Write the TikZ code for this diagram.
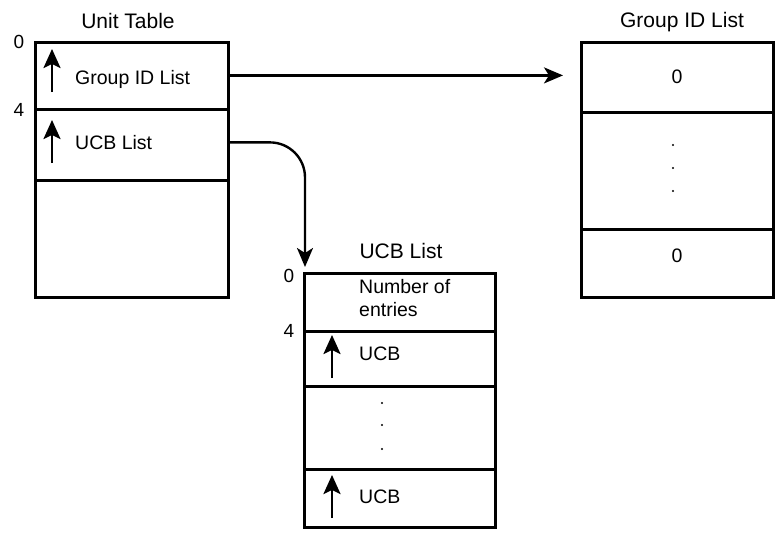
\documentclass[tikz,border=0pt]{standalone}
\usepackage{fontspec}
\setmainfont{Liberation Sans}
\usetikzlibrary{arrows.meta}
\begin{document}
\begin{tikzpicture}[x=1pt,y=-1pt,
  cell/.style={draw, line width=2.8pt, inner sep=0pt, anchor=north west},
  lbl/.style={anchor=base west, inner sep=0pt, font=\fontsize{19.5}{21}\selectfont},
  ctr/.style={anchor=base, inner sep=0pt, font=\fontsize{19.5}{21}\selectfont},
  ttl/.style={anchor=base, inner sep=0pt, font=\fontsize{21}{23}\selectfont},
  off/.style={anchor=base, inner sep=0pt, font=\fontsize{19}{21}\selectfont},
  dot/.style={circle, fill, inner sep=0pt, minimum size=2.4pt},
  ptr/.style={line width=2.6pt, -{Stealth[length=19pt,width=17pt,inset=4pt]}},
  arr/.style={line width=2.4pt, -{Stealth[length=19pt,width=16pt,inset=5pt]}}]
\useasboundingbox (0,0) rectangle (776,539);

% Unit Table
\node[cell, minimum width=193pt, minimum height=67pt] (ut1) at (34,41) {};
\node[cell, minimum width=193pt, minimum height=71pt] (ut2) at (34,108) {};
\node[cell, minimum width=193pt, minimum height=117pt] (ut3) at (34,179) {};
\node[ttl] (uttitle) at (128,28) {Unit Table};
\node[off] (ut0) at (19,48) {0};
\node[off] (ut4) at (19,116) {4};
\node[lbl] (utgid) at (75,84) {Group ID List};
\node[lbl] (utucb) at (75,149) {UCB List};
\coordinate (p1a) at (52,92); \coordinate (p1b) at (52,49);
\coordinate (p2a) at (52,163); \coordinate (p2b) at (52,120);
\draw[ptr] (p1a) -- (p1b);
\draw[ptr] (p2a) -- (p2b);

% Group ID List
\node[cell, minimum width=192pt, minimum height=70pt] (gid1) at (580,41) {};
\node[cell, minimum width=192pt, minimum height=117pt] (gid2) at (580,111) {};
\node[cell, minimum width=192pt, minimum height=68pt] (gid3) at (580,228) {};
\node[ttl] (gidtitle) at (682,27) {Group ID List};
\node[ctr] (gidz1) at (677,83) {0};
\node[ctr] (gidz2) at (677,262) {0};
\node[dot] (gd1) at (673,145) {};
\node[dot] (gd2) at (673,168) {};
\node[dot] (gd3) at (673,191) {};

% UCB List
\node[cell, minimum width=191pt, minimum height=58pt] (ucb1) at (303,272) {};
\node[cell, minimum width=191pt, minimum height=55pt] (ucb2) at (303,330) {};
\node[cell, minimum width=191pt, minimum height=83pt] (ucb3) at (303,385) {};
\node[cell, minimum width=191pt, minimum height=58pt] (ucb4) at (303,468) {};
\node[ttl] (ucbtitle) at (401,258) {UCB List};
\node[off] (ucb0) at (289,282) {0};
\node[off] (ucb4l) at (289,337) {4};
\node[lbl] (num1) at (359,293) {Number of};
\node[lbl] (num2) at (359,316) {entries};
\node[lbl] (ucbe1) at (359,360) {UCB};
\node[lbl] (ucbe2) at (359,503) {UCB};
\coordinate (p3a) at (332,378); \coordinate (p3b) at (332,335);
\coordinate (p4a) at (332,518); \coordinate (p4b) at (332,475);
\draw[ptr] (p3a) -- (p3b);
\draw[ptr] (p4a) -- (p4b);
\node[dot] (ud1) at (382,403) {};
\node[dot] (ud2) at (382,425) {};
\node[dot] (ud3) at (382,449) {};

% connectors
\draw[arr, shorten >=17pt] ([yshift=0.5pt]ut1.east) -- ([yshift=0.5pt]ut1.east -| gid1.west);
\draw[arr, rounded corners=35pt] ([yshift=2.5pt]ut2.east) -| ([shift={(2pt,5pt)}]ucb1.north west);
\end{tikzpicture}
\end{document}
